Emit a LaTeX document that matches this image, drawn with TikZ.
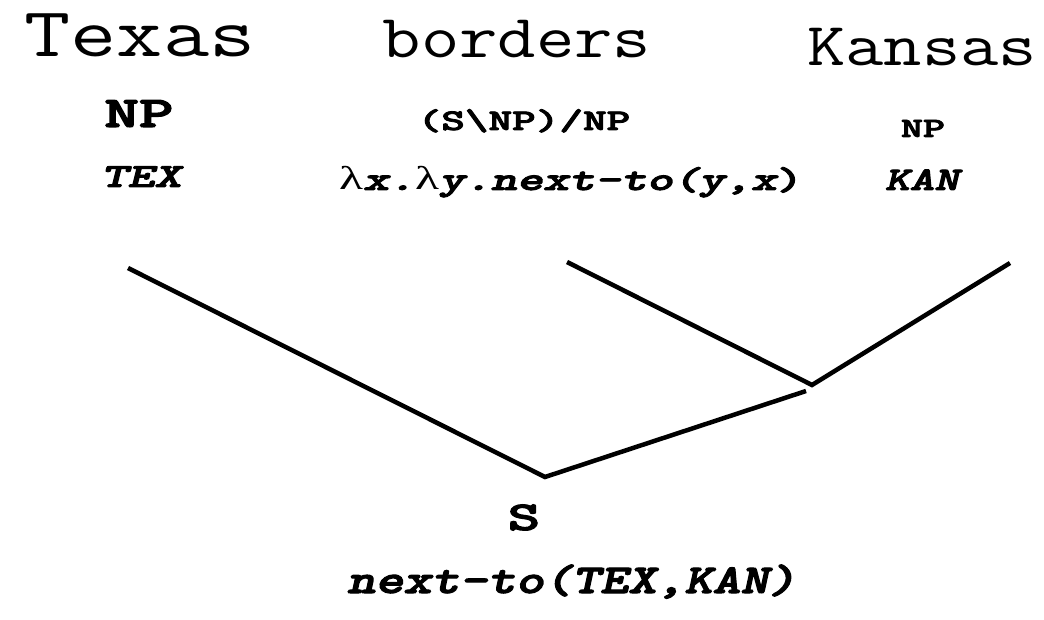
\documentclass[tikz,border=0pt]{standalone}
\usepackage{fontspec}
\newfontfamily\lamfont{Liberation Serif}
\newfontfamily\catfont{lmmonolt10-bold.otf}[FakeBold=2.5]
\newfontfamily\semfont{lmmonolt10-boldoblique.otf}[FakeBold=2.5]
\usetikzlibrary{calc}

\begin{document}
\begin{tikzpicture}[x=1pt, y=-1pt,
    word/.style={inner sep=0pt, anchor=base, xscale=1.22, font=\ttfamily\fontsize{#1}{#1}\selectfont},
    cat/.style={inner sep=0pt, anchor=base, xscale=1.5, font=\catfont\fontsize{#1}{#1}\selectfont},
    sem/.style={inner sep=0pt, anchor=base, xscale=1.5, font=\semfont\fontsize{#1}{#1}\selectfont},
    branch/.style={line width=4.5pt}]
    \useasboundingbox (0,0) rectangle (1044,620);

    %----------------------------------------
    % WORDS
    %----------------------------------------
    \node[word=70, xscale=1.05] (texas) at (140,57) {Texas};
    \node[word=61] (borders) at (517,58) {borders};
    \node[word=61] (kansas)  at (922,66) {Kansas};

    % categories
    \node[cat=44] (npleft)  at (139,127) {NP};
    \node[cat=30] (verbcat) at (524,130) {(S\textbackslash NP)/NP};
    \node[cat=28] (npright) at (923,137) {NP};

    % meanings
    \node[sem=34] (texsem)  at (141,187) {TEX};
    \node[sem=33] (verbsem) at (571,190) {{\lamfont λ}x.{\lamfont λ}y.next-to(y,x{\catfont )}};
    \node[sem=33, xscale=0.95] (kansem) at (922,190) {KAN};

    %----------------------------------------
    % TREE
    %----------------------------------------
    \coordinate (texleaf)   at (128,268);
    \coordinate (verbleaf)  at (567,262);
    \coordinate (kanleaf)   at (1010,263);
    \coordinate (vp)        at (812,385);
    \coordinate (vpfoot)    at (806,391);
    \coordinate (root)      at (545,477);

    \draw[branch] (verbleaf) -- (vp) -- (kanleaf);
    \draw[branch] (texleaf) -- (root) -- (vpfoot);

    % result
    \node[cat=41] (rootcat) at (524,530) {S};
    \node[sem=41, xscale=0.87] (rootsem) at (572,593) {next-to(TEX,KAN)};

\end{tikzpicture}
\end{document}
